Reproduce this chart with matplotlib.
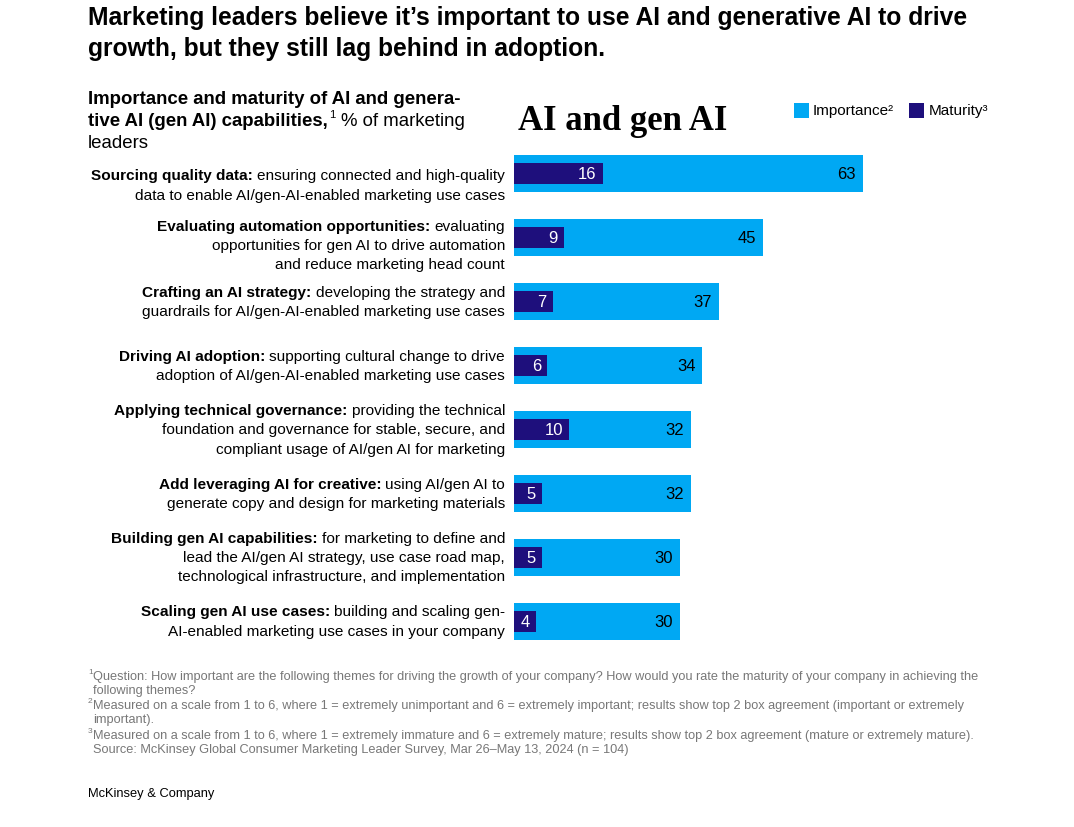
import matplotlib
matplotlib.use("Agg")
import matplotlib.pyplot as plt
import matplotlib.transforms as mtransforms
from matplotlib.patches import Rectangle

# ---------------- data ----------------
bold_parts = [
    "Sourcing quality data:",
    "Evaluating automation opportunities:",
    "Crafting an AI strategy:",
    "Driving AI adoption:",
    "Applying technical governance:",
    "Add leveraging AI for creative:",
    "Building gen AI capabilities:",
    "Scaling gen AI use cases:",
]
label_lines = [
    ["ensuring connected and high-quality", "data to enable AI/gen-AI-enabled marketing use cases"],
    ["evaluating", "opportunities for gen AI to drive automation", "and reduce marketing head count"],
    ["developing the strategy and", "guardrails for AI/gen-AI-enabled marketing use cases"],
    ["supporting cultural change to drive", "adoption of AI/gen-AI-enabled marketing use cases"],
    ["providing the technical", "foundation and governance for stable, secure, and", "compliant usage of AI/gen AI for marketing"],
    ["using AI/gen AI to", "generate copy and design for marketing materials"],
    ["for marketing to define and", "lead the AI/gen AI strategy, use case road map,", "technological infrastructure, and implementation"],
    ["building and scaling gen-", "AI-enabled marketing use cases in your company"],
]
importance = [63, 45, 37, 34, 32, 32, 30, 30]
maturity = [16, 9, 7, 6, 10, 5, 5, 4]

title_lines = [
    "Marketing leaders believe it\u2019s important to use AI and generative AI to drive",
    "growth, but they still lag behind in adoption.",
]
footnotes = [
    ("1", "Question: How important are the following themes for driving the growth of your company? How would you rate the maturity of your company in achieving the"),
    ("", "following themes?"),
    ("2", "Measured on a scale from 1 to 6, where 1 = extremely unimportant and 6 = extremely important; results show top 2 box agreement (important or extremely"),
    ("", "important)."),
    ("3", "Measured on a scale from 1 to 6, where 1 = extremely immature and 6 = extremely mature; results show top 2 box agreement (mature or extremely mature)."),
    ("", "Source: McKinsey Global Consumer Marketing Leader Survey, Mar 26\u2013May 13, 2024 (n = 104)"),
]

# ---------------- style ----------------
W, H = 1074, 828
C_IMP = "#00A8F3"
C_MAT = "#1E0F7C"
SANS = ["Liberation Sans", "DejaVu Sans"]
plt.rcParams["font.family"] = SANS

fig = plt.figure(figsize=(W / 100, H / 100), dpi=100)
fig.patch.set_facecolor("white")


def fx(x):
    return x / W


def fy(y):
    return 1 - y / H


# title
for i, line in enumerate(title_lines):
    fig.text(fx(88), fy(18 + i * 31), line, fontsize=17.7, fontweight="bold",
             color="black", va="center", ha="left")

# subtitle
renderer = fig.canvas.get_renderer()
t1 = fig.text(fx(88), fy(99), "Importance and maturity of AI and genera-", fontsize=13.4,
              fontweight="bold", va="center", ha="left")
t2 = fig.text(fx(88), fy(121), "tive AI (gen AI) capabilities,", fontsize=13.4,
              fontweight="bold", va="center", ha="left")
bb = t2.get_window_extent(renderer)
fig.text(bb.x1 / W + 0.001, fy(115), "1", fontsize=8, va="center", ha="left")
fig.text(bb.x1 / W + 0.012, fy(121), "% of marketing", fontsize=13.4, va="center", ha="left")
fig.text(fx(88), fy(143), "leaders", fontsize=13.4, va="center", ha="left")

# chart title
fig.text(fx(518), fy(122), "AI and gen AI", fontsize=25, fontweight="bold",
         family=["Liberation Serif", "DejaVu Serif"], va="center", ha="left")

# legend
fig.patches.append(Rectangle((fx(794), fy(119)), 15 / W, 15 / H, transform=fig.transFigure,
                             facecolor=C_IMP, edgecolor="none"))
fig.text(fx(813), fy(111), "Importance\u00b2", fontsize=11, va="center", ha="left")
fig.patches.append(Rectangle((fx(909), fy(119)), 15 / W, 15 / H, transform=fig.transFigure,
                             facecolor=C_MAT, edgecolor="none"))
fig.text(fx(929), fy(111), "Maturity\u00b3", fontsize=11, va="center", ha="left")

# axes
ax_top, ax_bot = 143, 654
ax = fig.add_axes([fx(514), fy(ax_bot), (1000 - 514) / W, (ax_bot - ax_top) / H])
ax.set_xlim(0, 486 / 5.54)
ax.set_ylim(len(importance) - 0.5, -0.5)
ax.axis("off")

ys = list(range(len(importance)))
ax.barh(ys, importance, height=0.58, color=C_IMP, edgecolor="none")
ax.barh(ys, maturity, height=0.33, color=C_MAT, edgecolor="none")

for y, v in zip(ys, importance):
    ax.annotate(str(v), xy=(v, y), xytext=(-7, 0), textcoords="offset pixels",
                ha="right", va="center", fontsize=12, color="black")
for y, v in zip(ys, maturity):
    ax.annotate(str(v), xy=(v, y), xytext=(-6, 0), textcoords="offset pixels",
                ha="right", va="center", fontsize=12, color="white")

# category labels
blend = mtransforms.blended_transform_factory(fig.transFigure, ax.transData)
line_h = 19.2
row_shift = [-11, -7, 0, 0, 0, 0, 0, 0]
for y, bpart, lines in zip(ys, bold_parts, label_lines):
    n = len(lines)
    for k, line in enumerate(lines):
        dy = ((n - 1) / 2 - k) * line_h + row_shift[y]
        tr = mtransforms.offset_copy(blend, fig=fig, x=0, y=dy, units="dots")
        t = fig.text(fx(505), y, line, transform=tr, fontsize=11.1, ha="right",
                     va="center", color="black")
        if k == 0:
            bbx = t.get_window_extent(renderer)
            tr2 = mtransforms.offset_copy(blend, fig=fig, x=bbx.x0 - 505 - 4, y=dy, units="dots")
            fig.text(fx(505), y, bpart, transform=tr2, fontsize=11.1, fontweight="bold",
                     ha="right", va="center", color="black")

# footnotes
fy_pos = [677, 691, 706, 720, 736, 750]
for (sup, txt), yy in zip(footnotes, fy_pos):
    if sup:
        fig.text(fx(88), fy(yy - 4), sup, fontsize=6, color="#777777", va="center", ha="left")
    fig.text(fx(93), fy(yy), txt, fontsize=9.15, color="#777777", va="center", ha="left")

fig.text(fx(88), fy(794), "McKinsey & Company", fontsize=9.3, color="black",
         va="center", ha="left")

fig.savefig("out.png", dpi=100, facecolor="white")
